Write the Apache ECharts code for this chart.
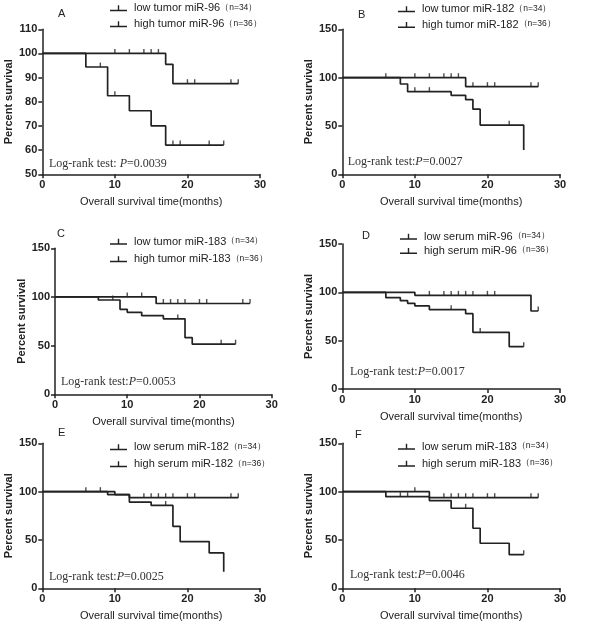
<!DOCTYPE html>
<html><head><meta charset="utf-8">
<script src="https://cdn.jsdelivr.net/npm/echarts@6/dist/echarts.min.js"></script>
<style>html,body{margin:0;padding:0;background:#fff}#c{width:600px;height:633px}</style>
</head><body><div id="c"></div>
<script>
// ---- data (time in months, percent survival) ----
const panelLetters = ['A','B','C','D','E','F'];
const lowNames = ['low tumor miR-96','low tumor miR-182','low tumor miR-183','low serum miR-96','low serum miR-182','low serum miR-183'];
const highNames = ['high tumor miR-96','high tumor miR-182','high tumor miR-183','high serum miR-96','high serum miR-182','high serum miR-183'];
const lowN = '（n=34）';
const highN = '（n=36）';
const pValues = ['Log-rank test: ', 'Log-rank test:', 'Log-rank test:', 'Log-rank test:', 'Log-rank test:', 'Log-rank test:'];
const pNumbers = ['=0.0039','=0.0027','=0.0053','=0.0017','=0.0025','=0.0046'];
const xTicks = [0, 30, 10];
const yRanges = [[50,110,10],[0,150,50],[0,150,50],[0,150,50],[0,150,50],[0,150,50]];

const lowA = [[0,100],[17,95.5],[18,87.5],[27,87.5]];
const lowA_cens = [[10,100],[12,100],[14,100],[15,100],[16,100],[20,87.5],[21,87.5],[26,87.5],[27,87.5]];
const highA = [[0,100],[6,94.4],[9,82.5],[12,76.3],[15,70],[17,62.1],[25,62.1]];
const highA_cens = [[8,94.4],[10,82.5],[18,62.1],[19,62.1],[23,62.1],[25,62.1]];

const lowB = [[0,100],[17,90.7],[27,90.7]];
const lowB_cens = [[6,100],[10,100],[12,100],[14,100],[15,100],[16,100],[18,90.7],[20,90.7],[21,90.7],[26,90.7],[27,90.7]];
const highB = [[0,100],[8,93.4],[9,85.5],[15,81.7],[17,77.2],[18,67.4],[19,50.9],[25,25.2]];
const highB_cens = [[10,85.5],[12,85.5],[23,50.9]];

const lowC = [[0,100],[14,93.3],[27,93.3]];
const lowC_cens = [[10,100],[12,100],[15,93.3],[16,93.3],[17,93.3],[18,93.3],[20,93.3],[21,93.3],[26,93.3],[27,93.3]];
const highC = [[0,100],[6,96.9],[9,87.3],[10,84.2],[12,80.8],[15,77.5],[18,58.2],[19,51.5],[25,51.5]];
const highC_cens = [[8,96.9],[17,77.5],[23,51.5],[25,51.5]];

const lowD = [[0,100],[10,96.9],[26,80.7],[27,80.7]];
const lowD_cens = [[12,96.9],[14,96.9],[15,96.9],[16,96.9],[17,96.9],[18,96.9],[20,96.9],[21,96.9],[27,80.7]];
const highD = [[0,100],[6,94.5],[8,91.4],[9,88.6],[10,85.9],[12,82.1],[17,77.9],[18,58.6],[23,43.8],[25,43.8]];
const highD_cens = [[15,82.1],[19,58.6],[25,43.8]];

const lowE = [[0,100],[10,97],[12,93.8],[27,93.8]];
const lowE_cens = [[6,100],[8,100],[14,93.8],[15,93.8],[16,93.8],[17,93.8],[18,93.8],[20,93.8],[21,93.8],[26,93.8],[27,93.8]];
const highE = [[0,100],[9,97],[12,89.2],[15,85.7],[18,64.1],[19,48.3],[23,36.6],[25,17.2]];
const highE_cens = [[17,85.7]];

const lowF = [[0,100],[12,93.8],[27,93.8]];
const lowF_cens = [[10,100],[14,93.8],[15,93.8],[16,93.8],[17,93.8],[18,93.8],[20,93.8],[21,93.8],[26,93.8],[27,93.8]];
const highF = [[0,100],[6,94.8],[12,90.7],[15,82.8],[18,62.1],[19,46.6],[23,34.8],[25,34.8]];
const highF_cens = [[8,94.8],[9,94.8],[17,82.8],[25,34.8]];

const lows = [lowA,lowB,lowC,lowD,lowE,lowF];
const lowsC = [lowA_cens,lowB_cens,lowC_cens,lowD_cens,lowE_cens,lowF_cens];
const highs = [highA,highB,highC,highD,highE,highF];
const highsC = [highA_cens,highB_cens,highC_cens,highD_cens,highE_cens,highF_cens];

// ---- layout ----
const grids = [
  {left:42.3, top:29.3, width:217.7, height:145},
  {left:342.3, top:29.3, width:217.7, height:145},
  {left:55, top:248.3, width:216.7, height:146},
  {left:342.3, top:244, width:217.7, height:145},
  {left:42.3, top:443.3, width:217.7, height:145},
  {left:342.3, top:443.3, width:217.7, height:145}
];
const letterPos = [[58,8],[358,9],[57,228],[362,230],[58,427],[355,429]];
const legendPos = [[110,1.8,3],[398,2.8,2.7],[110,235.2,4.6],[400,230.2,1.3],[110,440.8,4],[398,440.2,4]];
const pPos = [[49,157.3],[347.7,154.7],[61,374.7],[350,364.7],[49,569.7],[350,568]];

const SANS = '"Liberation Sans", Arial, sans-serif';
const SERIF = '"Liberation Serif", "Times New Roman", serif';
const INK = '#222';

const option = {
  animation:false,
  backgroundColor:'#fff',
  grid: grids.map(g => Object.assign({containLabel:false}, g)),
  xAxis: grids.map((g,i) => ({
    gridIndex:i, type:'value', min:xTicks[0], max:xTicks[1], interval:xTicks[2],
    name:'Overall survival time(months)', nameLocation:'middle', nameGap:22,
    nameTextStyle:{fontFamily:SANS, fontSize:11, color:INK},
    axisLine:{show:true, onZero:false, lineStyle:{color:INK, width:1.5}},
    axisTick:{show:true, length:4, lineStyle:{color:INK, width:1.5}},
    axisLabel:{fontFamily:SANS, fontSize:11, fontWeight:'bold', color:INK, margin:5},
    splitLine:{show:false}
  })),
  yAxis: grids.map((g,i) => ({
    gridIndex:i, type:'value', min:yRanges[i][0], max:yRanges[i][1], interval:yRanges[i][2],
    name:'Percent survival', nameLocation:'middle', nameGap:28, nameRotate:90,
    nameTextStyle:{fontFamily:SANS, fontSize:11, fontWeight:'bold', color:INK},
    axisLine:{show:true, onZero:false, lineStyle:{color:INK, width:1.5}},
    axisTick:{show:true, length:4, lineStyle:{color:INK, width:1.5}},
    axisLabel:{fontFamily:SANS, fontSize:11, fontWeight:'bold', color:INK, margin:5},
    splitLine:{show:false}
  })),
  legend: grids.map((g,i) => ({
    orient:'vertical', left:legendPos[i][0], top:legendPos[i][1], itemGap:legendPos[i][2],
    padding:0, selectedMode:false,
    data:[lowNames[i], highNames[i]],
    icon:'path://M0,4.4h17v1.5h-17z M7.8,0h1.4v4.4h-1.4z',
    itemWidth:17, itemHeight:6,
    formatter: name => '{a|' + name + '}{b|' + (name.startsWith('low') ? lowN : highN) + '}',
    textStyle:{color:INK, lineHeight:13, rich:{
      a:{fontFamily:SANS, fontSize:11, color:INK, padding:[0,0,0,2]},
      b:{fontFamily:SANS, fontSize:8.5, color:INK, padding:[0,0,2,0]}
    }}
  })),
  title: [].concat(
    letterPos.map((p,i) => ({text:panelLetters[i], left:p[0], top:p[1], padding:0,
      textStyle:{fontFamily:SANS, fontSize:11, fontWeight:'normal', color:INK, lineHeight:12}})),
    pPos.map((p,i) => ({text:'{a|' + pValues[i] + '}{b|P}{a|' + pNumbers[i] + '}', left:p[0], top:p[1], padding:0,
      textStyle:{lineHeight:14, fontWeight:'normal', rich:{
        a:{fontFamily:SERIF, fontSize:12, color:'#333', fontWeight:'normal'},
        b:{fontFamily:SERIF, fontSize:12, color:'#333', fontStyle:'italic', fontWeight:'normal'}
      }}}))
  ),
  series: []
};

for (let i = 0; i < 6; i++) {
  [[lowNames[i], lows[i], lowsC[i]], [highNames[i], highs[i], highsC[i]]].forEach(([nm, d, c]) => {
    option.series.push({
      name:nm, type:'line', step:'end', data:d, xAxisIndex:i, yAxisIndex:i,
      showSymbol:false, symbol:'none', silent:true,
      lineStyle:{color:INK, width:1.7}, itemStyle:{color:INK}
    });
    option.series.push({
      name:nm + ' censored', type:'scatter', data:c, xAxisIndex:i, yAxisIndex:i,
      symbol:'rect', symbolSize:[1.4, 4.5], symbolOffset:[0,-2.2], silent:true,
      itemStyle:{color:INK}
    });
  });
}

const chart = echarts.init(document.getElementById('c'), null, {renderer:'canvas'});
chart.setOption(option);
</script></body></html>
